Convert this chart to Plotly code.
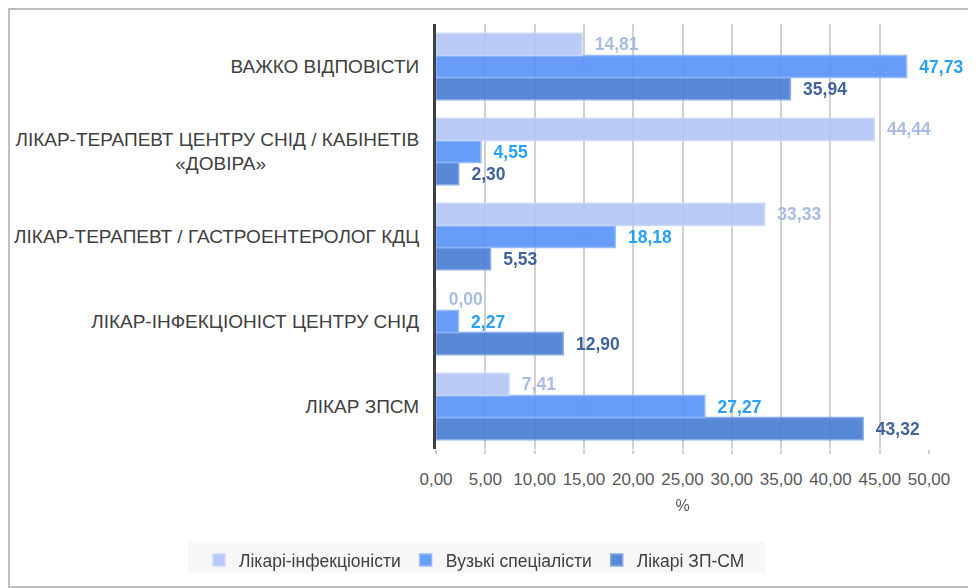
import plotly.graph_objects as go

# categories, bottom to top (as in the source chart)
categories = [
    "ЛІКАР ЗПСМ",
    "ЛІКАР-ІНФЕКЦІОНІСТ ЦЕНТРУ СНІД",
    "ЛІКАР-ТЕРАПЕВТ / ГАСТРОЕНТЕРОЛОГ КДЦ",
    "ЛІКАР-ТЕРАПЕВТ ЦЕНТРУ СНІД / КАБІНЕТІВ<br>«ДОВІРА»" + "\u00a0" * 29,
    "ВАЖКО ВІДПОВІСТИ",
]

infectionists = [7.41, 0.00, 33.33, 44.44, 14.81]
narrow_specialists = [27.27, 2.27, 18.18, 4.55, 47.73]
gp_fm = [43.32, 12.90, 5.53, 2.30, 35.94]

x_ticks = [0, 5, 10, 15, 20, 25, 30, 35, 40, 45, 50]

# the page puts the figure 8px in from the window corner, so size it to fit
W, H = 968, 580
ML, MR, MT, MB = 428, 47, 16, 139
PW, PH = W - ML - MR, H - MT - MB

fig = go.Figure()

# plotly stacks grouped bars bottom-up, so add the bottom bar of each group first
series = [
    ("Лікарі ЗП-СМ", gp_fm, "#4a7fd4", "#7fa3e0", "#2f5597", 3),
    ("Вузькі спеціалісти", narrow_specialists, "#5a95f8", "#8db6fb", "#1499f7", 2),
    ("Лікарі-інфекціоністи", infectionists, "#b3c6f6", "#c9d7f8", "#a3b8df", 1),
]
for name, vals, color, edge, txtcolor, rank in series:
    fig.add_trace(go.Bar(
        y=categories, x=vals, orientation="h", name=name,
        marker=dict(color=color, line=dict(color=edge, width=1.5)),
        opacity=0.92,
        texttemplate="\u00a0\u00a0<b>%{x:.2f}</b>", textposition="outside",
        constraintext="none",
        textfont=dict(family="Liberation Sans", size=17.5, color=txtcolor),
        cliponaxis=False, legendrank=rank,
    ))

fig.update_layout(
    width=W, height=H,
    margin=dict(l=ML, r=MR, t=MT, b=MB, autoexpand=False),
    barmode="group", bargap=0.22, bargroupgap=0.0,
    separators=", ",
    paper_bgcolor="white", plot_bgcolor="white",
    font=dict(family="Liberation Sans", color="#404040"),
    legend=dict(
        orientation="h",
        x=(191 - ML) / PW, xanchor="left", y=-93 / PH, yanchor="top",
        bgcolor="rgba(0,0,0,0)", font=dict(size=17.5, color="#404040"),
        itemwidth=30, tracegroupgap=0,
    ),
    xaxis=dict(
        range=[0, 50], tickvals=x_ticks, tickformat=".2f",
        showgrid=True, gridcolor="#d0d0d0", gridwidth=2,
        ticks="outside", ticklen=4, tickcolor="#d0d0d0", tickwidth=2,
        tickfont=dict(size=17, color="#595959"), ticklabelstandoff=11,
        title=dict(text="%", font=dict(size=16, color="#595959"), standoff=11),
        zeroline=False, showline=False,
    ),
    yaxis=dict(
        showline=True, linecolor="#404040", linewidth=3,
        tickfont=dict(size=19, color="#404040"),
        ticklabelstandoff=10, showgrid=False,
    ),
    shapes=[
        # outer chart frame
        dict(
            type="rect", xref="paper", yref="paper",
            x0=-(ML - 1) / PW, x1=1 + (MR - 1) / PW,
            y0=-(MB - 1) / PH, y1=1 + (MT - 1) / PH,
            line=dict(color="#bfbfbf", width=2), layer="below",
        ),
        # legend background box
        dict(
            type="rect", xref="paper", yref="paper",
            x0=(180 - ML) / PW, x1=(757 - ML) / PW,
            y0=-124 / PH, y1=-93 / PH,
            fillcolor="#f7f7f7", line=dict(width=0), layer="below",
        ),
    ],
)

fig.write_html("out.html")
